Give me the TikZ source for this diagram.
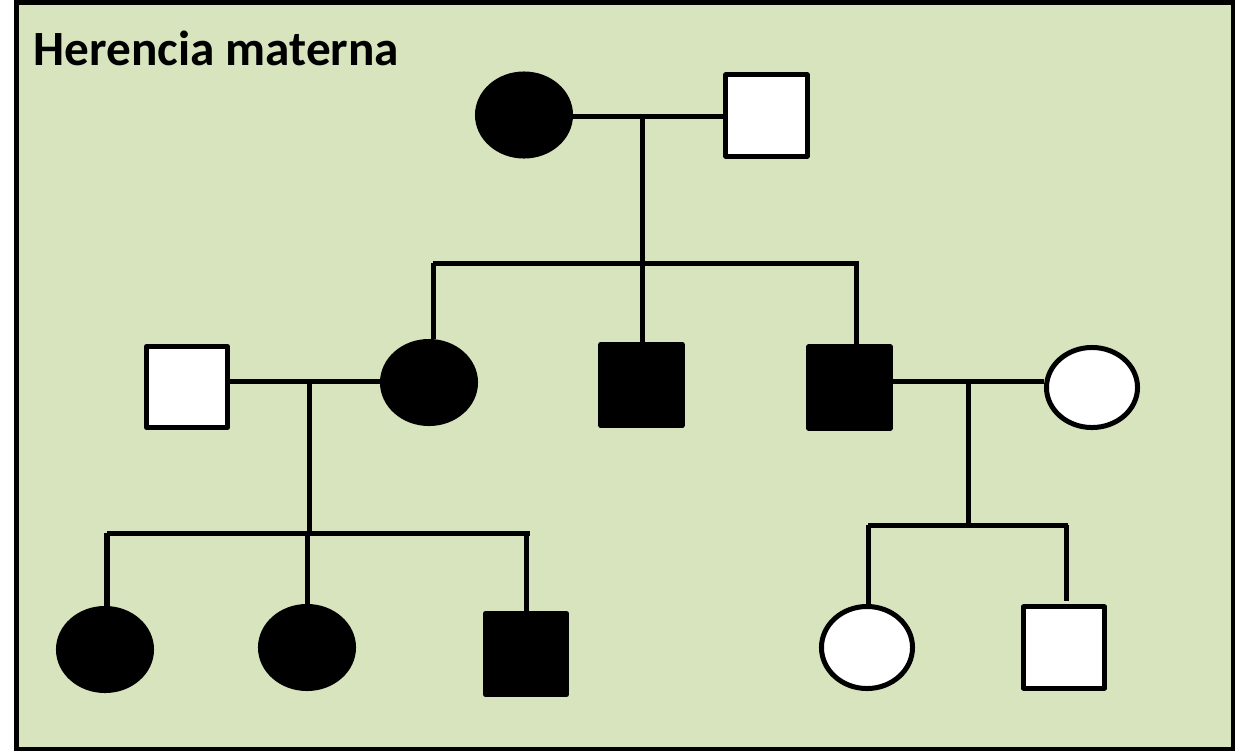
\documentclass[tikz,border=0pt]{standalone}
\usepackage{fontspec}
\setmainfont{Carlito}
\usetikzlibrary{shapes.geometric}
\definecolor{bg}{HTML}{D7E4BD}
\begin{document}
\begin{tikzpicture}[x=0.01cm,y=-0.01cm,
  ln/.style={line width=0.05cm,draw=black},
  male/.style={rectangle,ln,minimum width=0.81cm,minimum height=0.81cm,inner sep=0pt,line join=round},
  female/.style={ellipse,ln,minimum width=0.93cm,minimum height=0.82cm,inner sep=0pt},
  aff/.style={fill=black},
  un/.style={fill=white}]
\useasboundingbox (0,0) rectangle (1236,751);
\draw[line width=0.045cm,fill=bg] (16.5,2.5) rectangle (1233,749);
\node[anchor=base west,font=\fontsize{14}{16}\selectfont\bfseries,inner sep=0pt] (title) at (33,65) {Herencia materna};
% generation I
\node[female,aff] (f1) at (524,115) {};
\node[male,un] (m1) at (766.5,115.5) {};
% generation II
\node[male,un] (m2) at (187,387) {};
\node[female,aff] (f2) at (429,382.5) {};
\node[male,aff] (m3) at (641.5,385) {};
\node[male,aff] (m4) at (849.5,387.5) {};
\node[female,un,minimum width=0.91cm,minimum height=0.80cm] (f3) at (1092,387.5) {};
% generation III
\node[female,aff] (f4) at (105,649.5) {};
\node[female,aff] (f5) at (307,647.5) {};
\node[male,aff] (m5) at (526,654) {};
\node[female,un,minimum width=0.91cm] (f6) at (867,647.5) {};
\node[male,un] (m6) at (1064,647.5) {};
% coordinates
\coordinate (c1) at (642,116);
\coordinate (s1a) at (433,263);
\coordinate (s1b) at (642,263);
\coordinate (s1c) at (856,263);
\coordinate (s1e) at (859,263);
\coordinate (c2) at (309,381);
\coordinate (s2a) at (107,533);
\coordinate (s2m) at (309,533);
\coordinate (s2b) at (307,533);
\coordinate (s2c) at (526,533);
\coordinate (s2e) at (530,533);
\coordinate (c3) at (968,381);
\coordinate (s3m) at (968,525);
\coordinate (s3a) at (868,525);
\coordinate (s3c) at (1066,525);
\coordinate (s3e) at (1068,525);
\coordinate (m6top) at (1066,601);
% connectors
\draw[ln] (f1.east |- c1) -- (m1.west |- c1);
\draw[ln] (c1) -- (s1b);
\draw[ln] (s1a) -- (s1e);
\draw[ln] (s1a) -- (s1a |- f2.north);
\draw[ln] (s1b) -- (s1b |- m3.north);
\draw[ln] (s1c) -- (s1c |- m4.north);
\draw[ln] (m2.east |- c2) -- (f2.west |- c2);
\draw[ln] (c2) -- (s2m);
\draw[ln] (s2a) -- (s2e);
\draw[ln] (s2a) -- (s2a |- f4.north);
\draw[ln] (s2b) -- (s2b |- f5.north);
\draw[ln] (s2c) -- (s2c |- m5.north);
\draw[ln] (m4.east |- c3) -- (f3.west |- c3);
\draw[ln] (c3) -- (s3m);
\draw[ln] (s3a) -- (s3e);
\draw[ln] (s3a) -- (s3a |- f6.north);
\draw[ln] (s3c) -- (m6top);
\end{tikzpicture}
\end{document}
